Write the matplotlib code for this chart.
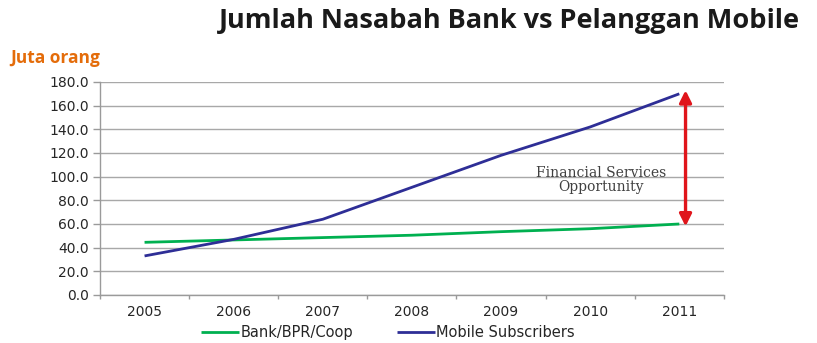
import matplotlib
matplotlib.use("Agg")
import matplotlib.pyplot as plt
from matplotlib.ticker import FixedLocator, FuncFormatter

plt.rcParams["font.family"] = ["DejaVu Sans"]

years = ["2005", "2006", "2007", "2008", "2009", "2010", "2011"]
bank = [44.5, 46.5, 48.5, 50.5, 53.5, 56.0, 60.0]
mobile = [33.0, 47.0, 64.0, 91.0, 118.0, 142.0, 170.0]
yticks = [0, 20, 40, 60, 80, 100, 120, 140, 160, 180]

title = "Jumlah Nasabah Bank vs Pelanggan Mobile"
ylabel = "Juta orang"
note = "Financial Services\nOpportunity"
series_names = ["Bank/BPR/Coop", "Mobile Subscribers"]

fig = plt.figure(figsize=(8.17, 3.43), dpi=100)
ax = fig.add_axes([0.1224, 0.14, 0.886 - 0.1224, 0.761 - 0.14])

x = list(range(len(years)))
l1, = ax.plot(x, bank, color="#00B050", lw=2.0, solid_capstyle="butt")
l2, = ax.plot(x, mobile, color="#2E2E96", lw=2.0, solid_capstyle="butt")

ax.set_xlim(-0.5, len(years) - 0.5)
ax.set_ylim(0, 180)
ax.yaxis.set_major_locator(FixedLocator(yticks))
ax.yaxis.set_major_formatter(FuncFormatter(lambda v, p: f"{v:.1f}"))
ax.set_xticks(x)
ax.set_xticklabels(years)
ax.set_xticks([i - 0.5 for i in range(len(years) + 1)], minor=True)
ax.tick_params(axis="x", which="major", length=0, pad=7, labelsize=10,
               labelcolor="#262626")
ax.tick_params(axis="x", which="minor", length=3, color="#9a9a9a", width=1)
ax.tick_params(axis="y", length=5, color="#9a9a9a", width=1, pad=3,
               labelsize=10, labelcolor="#262626")

ax.grid(axis="y", color="#a8a8a8", lw=1)
ax.set_axisbelow(True)
for s in ["top", "right"]:
    ax.spines[s].set_visible(False)
for s in ["left", "bottom"]:
    ax.spines[s].set_color("#9a9a9a")
    ax.spines[s].set_linewidth(1)

# Double-headed arrow between the two series at the last year
xa = x[-1] + 0.07
ax.annotate("", xy=(xa, mobile[-1] + 3), xytext=(xa, bank[-1] - 2),
            arrowprops=dict(arrowstyle="<|-|>", color="#E0151B", lw=2.4,
                            mutation_scale=18, shrinkA=0, shrinkB=0))
ax.text(5.12, 97, note, ha="center", va="center", family="DejaVu Serif",
        fontsize=10, color="#404040", linespacing=1.0)

fig.text(0.623, 0.94, title, ha="center", va="center", fontsize=19.5,
         fontweight="bold", family="Open Sans", color="#1a1a1a")
fig.text(0.013, 0.83, ylabel, ha="left", va="center", fontsize=12.5,
         fontweight="bold", family="Open Sans", color="#E46C0A")

leg = fig.legend([l1, l2], series_names, loc="center", ncol=2,
                 bbox_to_anchor=(0.475, 0.03), frameon=False,
                 handlelength=2.6, handletextpad=0.1, columnspacing=3.0,
                 prop={"family": "DejaVu Sans", "size": 10.5})
for t in leg.get_texts():
    t.set_color("#262626")

fig.savefig("out.png", dpi=100)
